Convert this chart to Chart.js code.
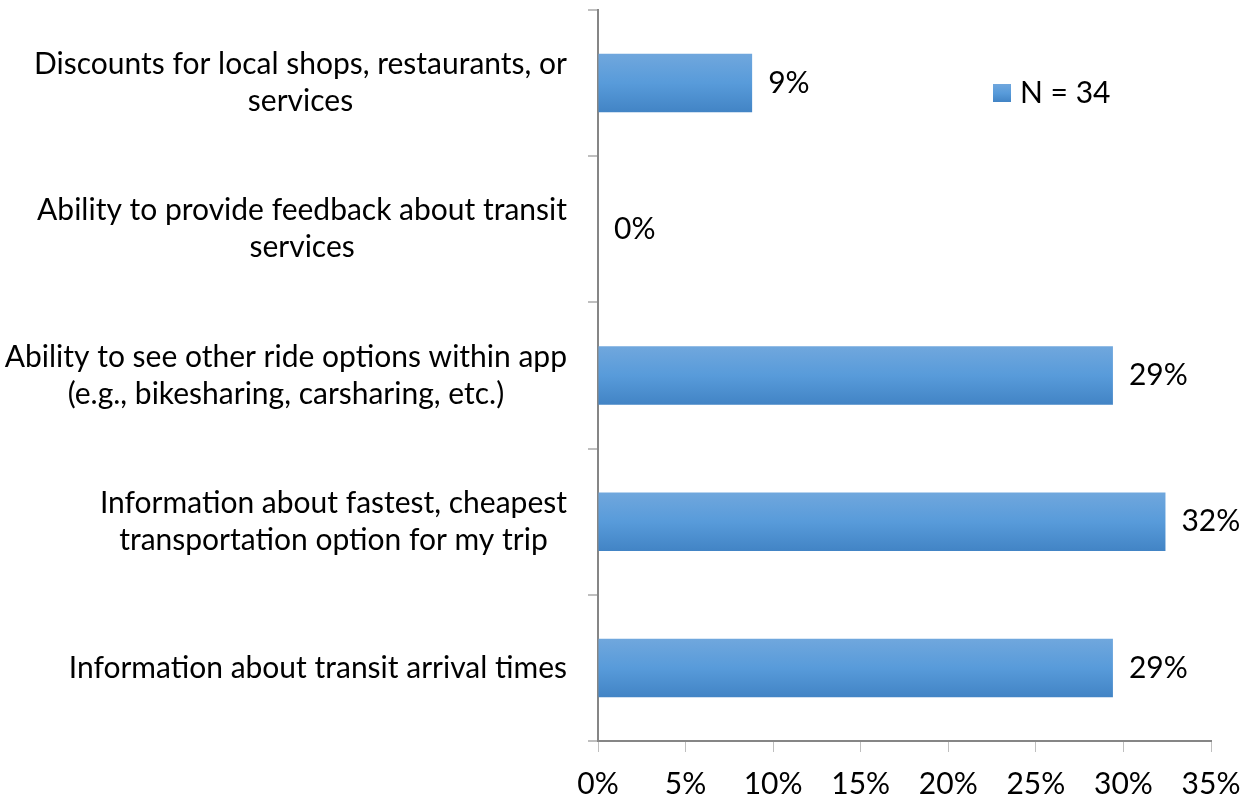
<!DOCTYPE html>
<html>
  <head>
    <script src="https://cdn.jsdelivr.net/npm/chart.js"></script>
    <title>N = 34</title>
    <style>
      body {
        margin: 0;
        background-color: white;
      }
      .wrap {
        width: 1250px;
        height: 795px;
      }
    </style>
  </head>
  <body>
    <div class="wrap">
      <canvas id="barChart" width="1250" height="795"></canvas>
    </div>

<script>
  // chart data
  const categories = [
    ['Discounts for local shops, restaurants, or', 'services'],
    ['Ability to provide feedback about transit', 'services'],
    ['Ability to see other ride options within app', '(e.g., bikesharing, carsharing, etc.)'],
    ['Information about fastest, cheapest', 'transportation option for my trip'],
    ['Information about transit arrival times']
  ];
  const values = [8.8, 0, 29.4, 32.4, 29.4];
  const valueLabels = ['9%', '0%', '29%', '32%', '29%'];
  const seriesName = 'N = 34';
  const xTicks = [0, 5, 10, 15, 20, 25, 30, 35];

  const fontFamily = 'Lato, "Open Sans", sans-serif';
  const fontSize = 30;
  const lineGap = 37;
  const axisGrey = '#868686';
  const yTickLen = 10;
  const yTickPad = 21;

  function barGradient(ctx, top, bottom) {
    if (!isFinite(top) || !isFinite(bottom) || top === bottom) return '#589bda';
    const g = ctx.createLinearGradient(0, top, 0, bottom);
    g.addColorStop(0, '#70a7dd');
    g.addColorStop(0.5, '#589bda');
    g.addColorStop(1, '#4284c5');
    return g;
  }

  // category labels: each label block right-aligned, its lines centred
  const categoryLabelPlugin = {
    id: 'categoryLabels',
    afterDraw(chart) {
      const ctx = chart.ctx;
      const scale = chart.scales.y;
      const right = scale.right - yTickLen - yTickPad;
      ctx.save();
      ctx.font = fontSize + 'px ' + fontFamily;
      ctx.fillStyle = '#000';
      ctx.textBaseline = 'middle';
      ctx.textAlign = 'center';
      chart.data.labels.forEach((lines, i) => {
        const y = scale.getPixelForValue(i);
        const w = Math.max(...lines.map(l => ctx.measureText(l).width));
        const cx = right - w / 2;
        lines.forEach((l, j) => {
          ctx.fillText(l, cx, y + (j - (lines.length - 1) / 2) * lineGap);
        });
      });
      ctx.restore();
    }
  };

  // value labels to the right of each bar
  const valueLabelPlugin = {
    id: 'valueLabels',
    afterDatasetsDraw(chart) {
      const ctx = chart.ctx;
      const meta = chart.getDatasetMeta(0);
      ctx.save();
      ctx.font = fontSize + 'px ' + fontFamily;
      ctx.fillStyle = '#000';
      ctx.textBaseline = 'middle';
      ctx.textAlign = 'left';
      meta.data.forEach((bar, i) => {
        ctx.fillText(valueLabels[i], bar.x + 16, bar.y);
      });
      ctx.restore();
    }
  };

  // legend drawn inside the plot, top right
  const insideLegendPlugin = {
    id: 'insideLegend',
    afterDraw(chart) {
      const ctx = chart.ctx;
      const x = 993, y = 84, s = 18;
      ctx.save();
      ctx.fillStyle = barGradient(ctx, y, y + s);
      ctx.fillRect(x, y, s, s);
      ctx.font = fontSize + 'px ' + fontFamily;
      ctx.fillStyle = '#000';
      ctx.textBaseline = 'middle';
      ctx.fillText(chart.data.datasets[0].label, x + s + 9, y + s / 2);
      ctx.restore();
    }
  };

  const ctx = document.getElementById('barChart').getContext('2d');
  const myChart = new Chart(ctx, {
    type: 'bar',
    data: {
      labels: categories,
      datasets: [{
        label: seriesName,
        data: values,
        backgroundColor: function(context) {
          const chart = context.chart;
          const yScale = chart.scales.y;
          if (!yScale || !chart.chartArea) return '#589bda';
          const band = yScale.height / categories.length;
          const thick = band * 0.4;
          const c = yScale.getPixelForValue(context.dataIndex);
          return barGradient(chart.ctx, c - thick / 2, c + thick / 2);
        },
        borderWidth: 0,
        categoryPercentage: 0.4,
        barPercentage: 1.0,
      }],
    },
    options: {
      indexAxis: 'y',
      responsive: false,
      animation: false,
      layout: {
        autoPadding: false,
        padding: { left: 0, top: 10, right: 39, bottom: 0 }
      },
      plugins: {
        legend: { display: false },
        tooltip: { enabled: false },
      },
      scales: {
        x: {
          min: 0,
          max: 35,
          afterBuildTicks(scale) {
            scale.ticks = xTicks.map(v => ({ value: v }));
          },
          afterFit(scale) {
            scale.height = 54;
            scale.paddingLeft = 0;
            scale.paddingRight = 0;
          },
          border: { display: true, color: axisGrey, width: 2 },
          grid: {
            drawOnChartArea: false,
            drawTicks: true,
            tickLength: 11,
            color: '#bfbfbf',
            lineWidth: 1,
          },
          ticks: {
            padding: 14,
            color: '#000',
            font: { family: fontFamily, size: fontSize },
            callback: v => v + '%',
          },
        },
        y: {
          afterFit(scale) {
            scale.width = 598;
            scale.paddingTop = 0;
            scale.paddingBottom = 0;
          },
          border: { display: true, color: axisGrey, width: 2 },
          grid: {
            drawOnChartArea: false,
            drawTicks: true,
            tickLength: yTickLen,
            color: '#bfbfbf',
            lineWidth: 2,
          },
          ticks: {
            display: false,
          },
        },
      },
    },
    plugins: [valueLabelPlugin, categoryLabelPlugin, insideLegendPlugin],
  });
</script>
  </body>
</html>
